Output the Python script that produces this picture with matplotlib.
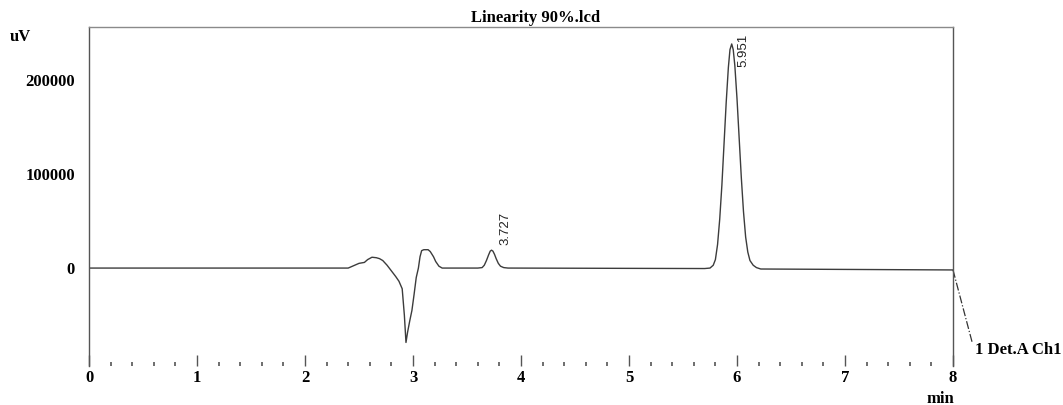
import matplotlib
matplotlib.use("Agg")
import matplotlib.pyplot as plt
from matplotlib.ticker import MultipleLocator

# ---- data ----
time_min = [0.00, 2.40, 2.45, 2.50, 2.55, 2.58, 2.62, 2.66, 2.69, 2.72, 2.76,
            2.80, 2.84, 2.87, 2.90, 2.92, 2.935, 2.95, 2.97, 2.99, 3.01, 3.03,
            3.05, 3.065, 3.08, 3.10, 3.14, 3.16, 3.19, 3.21, 3.24, 3.27, 3.30,
            3.60, 3.64, 3.66, 3.68, 3.70, 3.715, 3.727, 3.74, 3.755, 3.77, 3.79,
            3.81, 3.84, 3.88,
            5.70, 5.75, 5.78, 5.80, 5.82, 5.84, 5.86, 5.88, 5.90, 5.92, 5.935,
            5.951, 5.965, 5.98, 6.00, 6.02, 6.04, 6.06, 6.08, 6.10, 6.12, 6.15,
            6.18, 6.22, 8.00]
signal_uv = [0, 0, 2500, 5000, 6000, 9000, 11500, 11000, 10000, 8000, 3000,
             -3000, -9000, -14000, -22000, -50000, -79000, -68000, -56000, -45000, -28000, -10000,
             0, 12000, 18500, 19500, 19500, 17500, 12000, 7000, 2000, 0, 0,
             0, 500, 3000, 8000, 14000, 18000, 19000, 18000, 14500, 10000, 5000,
             2000, 500, 0,
             -500, 0, 3000, 9000, 25000, 52000, 88000, 132000, 176000, 213000, 232000,
             238000, 232000, 215000, 180000, 138000, 96000, 60000, 33000, 17000, 8000, 3000,
             500, -1000, -2000]

peak_times = [3.727, 5.951]
peak_labels = ["3.727", "5.951"]
label_x = [3.86, 6.06]
label_y = [24500, 214000]

x_ticks = [0, 1, 2, 3, 4, 5, 6, 7, 8]
y_ticks = [0, 100000, 200000]
y_tick_labels = ["0", "100000", "200000"]

title = "Linearity 90%.lcd"
channel = "1 Det.A Ch1"

# ---- figure ----
W, H = 1063, 405
fig = plt.figure(figsize=(W / 100, H / 100), dpi=100)
ax = fig.add_axes([89 / W, 1 - 366 / H, (953 - 89) / W, (366 - 27) / H])

serif = "Liberation Serif"
line_col = "#3c3c3c"

ax.plot(time_min, signal_uv, color=line_col, lw=1.0)
ax.set_xlim(0, 8)
ax.set_ylim(-104000, 256000)

for s in ["left", "right"]:
    ax.spines[s].set_color("#555555")
    ax.spines[s].set_linewidth(1.0)
ax.spines["top"].set_color("#8a8a8a")
ax.spines["top"].set_linewidth(1.0)
ax.spines["bottom"].set_visible(False)

ax.set_xticks(x_ticks)
ax.set_xticklabels([str(v) for v in x_ticks], fontfamily=serif,
                   fontweight="bold", fontsize=12)
ax.xaxis.set_minor_locator(MultipleLocator(0.2))
ax.tick_params(axis="x", which="major", direction="in", length=8,
               width=1.0, color="#555555", pad=3)
ax.tick_params(axis="x", which="minor", direction="in", length=3,
               width=1.2, color="#555555")

ax.set_yticks(y_ticks)
ax.set_yticklabels(y_tick_labels, fontfamily=serif, fontweight="bold",
                   fontsize=12)
ax.tick_params(axis="y", length=0, pad=10)

for xt, yt, lab in zip(label_x, label_y, peak_labels):
    ax.text(xt, yt, lab, rotation=90, ha="center", va="bottom",
            fontfamily="Liberation Sans", fontsize=9.5, color="#222222")

# detector leader line and label
ax.plot([8.0, 8.18], [signal_uv[-1], -80000], color="#333333", lw=0.9,
        ls="-.", clip_on=False)
ax.text(8.20, -87000, channel, ha="left", va="center", fontfamily=serif,
        fontweight="bold", fontsize=12, clip_on=False)

fig.text(536 / W, 1 - 18 / H, title, ha="center", va="center",
         fontfamily=serif, fontweight="bold", fontsize=12)
fig.text(20 / W, 1 - 37 / H, "uV", ha="center", va="center",
         fontfamily=serif, fontweight="bold", fontsize=12)
fig.text(940 / W, 1 - 399 / H, "min", ha="center", va="center",
         fontfamily=serif, fontweight="bold", fontsize=12)

fig.savefig("out.png", dpi=100)
